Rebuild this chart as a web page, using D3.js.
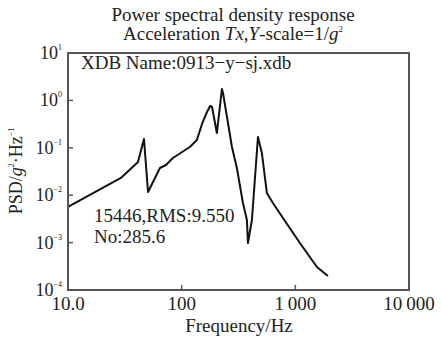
<!DOCTYPE html>
<html>
<head>
<meta charset="utf-8" />
<title>PSD response</title>
<script src="https://cdn.jsdelivr.net/npm/d3@7"></script>
<style>
  body { margin: 0; background: #fff; }
  text { font-family: "Liberation Serif", "DejaVu Serif", serif; fill: #222; }
</style>
</head>
<body>
<script>
// frequency (Hz) and PSD (g^2/Hz)
var freq = [10, 29.2, 41.3, 46.6, 50.6, 64.4, 72.8, 83.8, 118, 136, 151, 167, 178, 185, 204, 226, 231,
            277, 306, 346, 375, 383, 415, 469, 508, 562, 635, 778, 1097, 1549, 1935];
var psd = [0.00564, 0.0231, 0.050, 0.153, 0.0117, 0.0375, 0.0434, 0.061, 0.104, 0.146, 0.318, 0.569, 0.762,
           0.726, 0.205, 1.74, 1.43, 0.104, 0.0375, 0.00684, 0.0030, 0.00098, 0.0030, 0.169, 0.0776,
           0.0111, 0.00684, 0.0033, 0.00098, 0.000305, 0.000197];
var xTicks = [10, 100, 1000, 10000];
var xTickLabels = ['10.0', '100', '1\u2009000', '10\u2009000'];
var yExps = [1, 0, -1, -2, -3, -4];

var width = 441, height = 338;
var m = { left: 68, right: 409, top: 53, bottom: 290 };

var svg = d3.select('body').append('svg').attr('width', width).attr('height', height);

var x = d3.scaleLog().domain([10, 10000]).range([m.left, m.right]);
var y = d3.scaleLog().domain([1e-4, 10]).range([m.bottom, m.top]);

// titles
svg.append('text').attr('x', 233).attr('y', 21).attr('text-anchor', 'middle')
    .attr('font-size', '19px').text('Power spectral density response');
var t2 = svg.append('text').attr('x', 233).attr('y', 40).attr('text-anchor', 'middle').attr('font-size', '19px');
t2.append('tspan').text('Acceleration ');
t2.append('tspan').attr('font-style', 'italic').text('Tx');
t2.append('tspan').text(',');
t2.append('tspan').attr('font-style', 'italic').text('Y');
t2.append('tspan').text('-scale=1/');
t2.append('tspan').attr('font-style', 'italic').text('g');
t2.append('tspan').attr('font-size', '9px').attr('dy', -8).text('2');

// curve
var line = d3.line().x(function(d){ return x(d[0]); }).y(function(d){ return y(d[1]); });
svg.append('path').datum(d3.zip(freq, psd)).attr('d', line)
    .attr('fill', 'none').attr('stroke', '#111').attr('stroke-width', 2).attr('stroke-linejoin', 'round');

// frame
svg.append('rect').attr('x', m.left).attr('y', m.top).attr('width', m.right - m.left).attr('height', m.bottom - m.top)
    .attr('fill', 'none').attr('stroke', '#555').attr('stroke-width', 2);

// y axis ticks (inward) and labels
svg.selectAll('.ytick').data(yExps.slice(1, -1)).enter().append('line')
    .attr('x1', m.left).attr('x2', m.left + 5)
    .attr('y1', function(d){ return y(Math.pow(10, d)); })
    .attr('y2', function(d){ return y(Math.pow(10, d)); })
    .attr('stroke', '#555').attr('stroke-width', 1.5);
var yl = svg.selectAll('.ylab').data(yExps).enter().append('text')
    .attr('x', 62).attr('y', function(d){ return y(Math.pow(10, d)) + 6; })
    .attr('text-anchor', 'end').attr('font-size', '18px');
yl.append('tspan').text('10');
yl.append('tspan').attr('font-size', '8px').attr('dy', -9).text(function(d){ return d < 0 ? '\u2212' + (-d) : d; });

// x axis ticks (inward) and labels
svg.selectAll('.xtick').data(xTicks.slice(1, -1)).enter().append('line')
    .attr('x1', function(d){ return x(d); }).attr('x2', function(d){ return x(d); })
    .attr('y1', m.bottom).attr('y2', m.bottom - 5)
    .attr('stroke', '#555').attr('stroke-width', 1.5);
svg.selectAll('.xlab').data(xTicks).enter().append('text')
    .attr('x', function(d){ return x(d); }).attr('y', 310)
    .attr('text-anchor', 'middle').attr('font-size', '19px')
    .text(function(d, i){ return xTickLabels[i]; });

svg.append('text').attr('x', 239).attr('y', 332).attr('text-anchor', 'middle')
    .attr('font-size', '19px').text('Frequency/Hz');

var yt = svg.append('text').attr('transform', 'translate(22,171) rotate(-90)')
    .attr('text-anchor', 'middle').attr('font-size', '18px');
yt.append('tspan').text('PSD/');
yt.append('tspan').attr('font-style', 'italic').text('g');
yt.append('tspan').attr('font-size', '8px').attr('dy', -8).text('2');
yt.append('tspan').attr('dy', 8).text('\u00b7Hz');
yt.append('tspan').attr('font-size', '8px').attr('dy', -8).text('\u22121');

// annotations
svg.append('text').attr('x', 81).attr('y', 69).attr('font-size', '19px').text('XDB Name:0913\u2212y\u2212sj.xdb');
svg.append('text').attr('x', 94).attr('y', 222).attr('font-size', '19px').text('15446,RMS:9.550');
svg.append('text').attr('x', 94).attr('y', 243).attr('font-size', '19px').text('No:285.6');
</script>
</body>
</html>
